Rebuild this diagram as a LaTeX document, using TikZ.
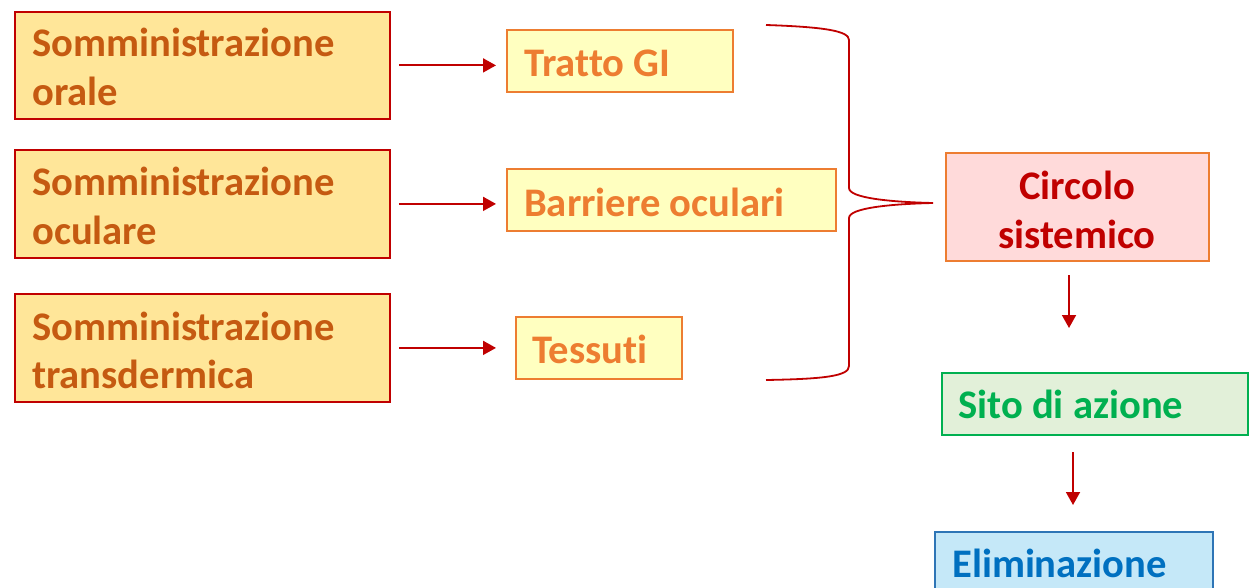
\documentclass[tikz,border=0pt]{standalone}
\usepackage{fontspec}
\setmainfont{Carlito}[Ligatures={NoCommon,NoContextual}]
\usetikzlibrary{arrows.meta}
\definecolor{dred}{HTML}{C00000}
\definecolor{lfill}{HTML}{FFE699}
\definecolor{ltext}{HTML}{C55A11}
\definecolor{mfill}{HTML}{FFFFC0}
\definecolor{orng}{HTML}{ED7D31}
\definecolor{cfill}{HTML}{FFDADA}
\definecolor{sfill}{HTML}{E2F0D9}
\definecolor{sgreen}{HTML}{00B050}
\definecolor{efill}{HTML}{C5E8F8}
\definecolor{eborder}{HTML}{2E75B6}
\definecolor{etext}{HTML}{0070C0}
\tikzset{
  box/.style={rectangle, anchor=north west, inner sep=0pt, line width=1.8pt},
  lbox/.style={box, draw=dred, fill=lfill},
  mbox/.style={box, draw=orng, fill=mfill},
  txt/.style={inner sep=0pt, font=\fontsize{40.6}{48}\selectfont\bfseries},
  arr/.style={draw=dred, line width=1.8pt, -{Triangle[length=13pt,width=14pt]}},
}
\begin{document}
\begin{tikzpicture}[x=1pt,y=-1pt]
\useasboundingbox (0,0) rectangle (1249,588);
\clip (0,0) rectangle (1249,588);
% left boxes
\node[lbox, minimum width=375pt, minimum height=107pt] (o) at (14,11) {};
\node[lbox, minimum width=375pt, minimum height=108pt] (u) at (14,149) {};
\node[lbox, minimum width=375pt, minimum height=108pt] (t) at (14,293) {};
\node[txt, text=ltext, anchor=base west] (o1) at (32,57) {Somministrazione};
\node[txt, text=ltext, anchor=base west] (o2) at (32,106) {orale};
\node[txt, text=ltext, anchor=base west] (u1) at (32,196) {Somministrazione};
\node[txt, text=ltext, anchor=base west] (u2) at (32,244) {oculare};
\node[txt, text=ltext, anchor=base west] (t1) at (32,340) {Somministrazione};
\node[txt, text=ltext, anchor=base west] (t2) at (32,388) {transdermica};
% middle boxes
\node[mbox, minimum width=226pt, minimum height=62pt] (g) at (506,29) {};
\node[mbox, minimum width=329pt, minimum height=62pt] (b) at (506,168) {};
\node[mbox, minimum width=166pt, minimum height=62pt] (s) at (515,316) {};
\node[txt, text=orng, anchor=base west] (g1) at (524,77) {Tratto GI};
\node[txt, text=orng, anchor=base west] (b1) at (524,216) {Barriere oculari};
\node[txt, text=orng, anchor=base west] (s1) at (532,363) {Tessuti};
% arrows left -> middle
\draw[arr] ([xshift=8pt]o.east) -- ([xshift=-10pt]o.east -| g.west);
\draw[arr] ([xshift=8pt]u.east) -- ([xshift=-10pt]u.east -| b.west);
\draw[arr] ([xshift=8pt]t.east) -- ([xshift=-19pt]t.east -| s.west);
% brace
\draw[dred, line width=1.8pt, line join=round]
  (766,25) .. controls (825,27) and (849,31) .. (849,40) -- (849,188)
  .. controls (849,198) and (890,202) .. (933,203)
  (933,203) .. controls (890,204) and (849,208) .. (849,218) -- (849,366)
  .. controls (849,376) and (825,379) .. (766,380);
% right column
\node[box, draw=orng, fill=cfill, minimum width=263pt, minimum height=108pt] (c) at (945,152) {};
\node[txt, text=dred, anchor=base] (c1) at (1077,200) {Circolo};
\node[txt, text=dred, anchor=base] (c2) at (1077,248) {sistemico};
\node[box, draw=sgreen, fill=sfill, minimum width=306pt, minimum height=62pt] (si) at (941,372) {};
\node[txt, text=sgreen, anchor=base west] (si1) at (958,418) {Sito di azione};
\node[box, draw=eborder, fill=efill, minimum width=278pt, minimum height=80pt] (e) at (934,531) {};
\node[txt, text=etext, anchor=base west] (e1) at (952,577) {Eliminazione};
\coordinate (a1s) at (1069,275);
\coordinate (a1e) at (1069,328);
\coordinate (a2s) at (1073,452);
\coordinate (a2e) at (1073,505);
\draw[arr] (a1s) -- (a1e);
\draw[arr] (a2s) -- (a2e);
\end{tikzpicture}
\end{document}
